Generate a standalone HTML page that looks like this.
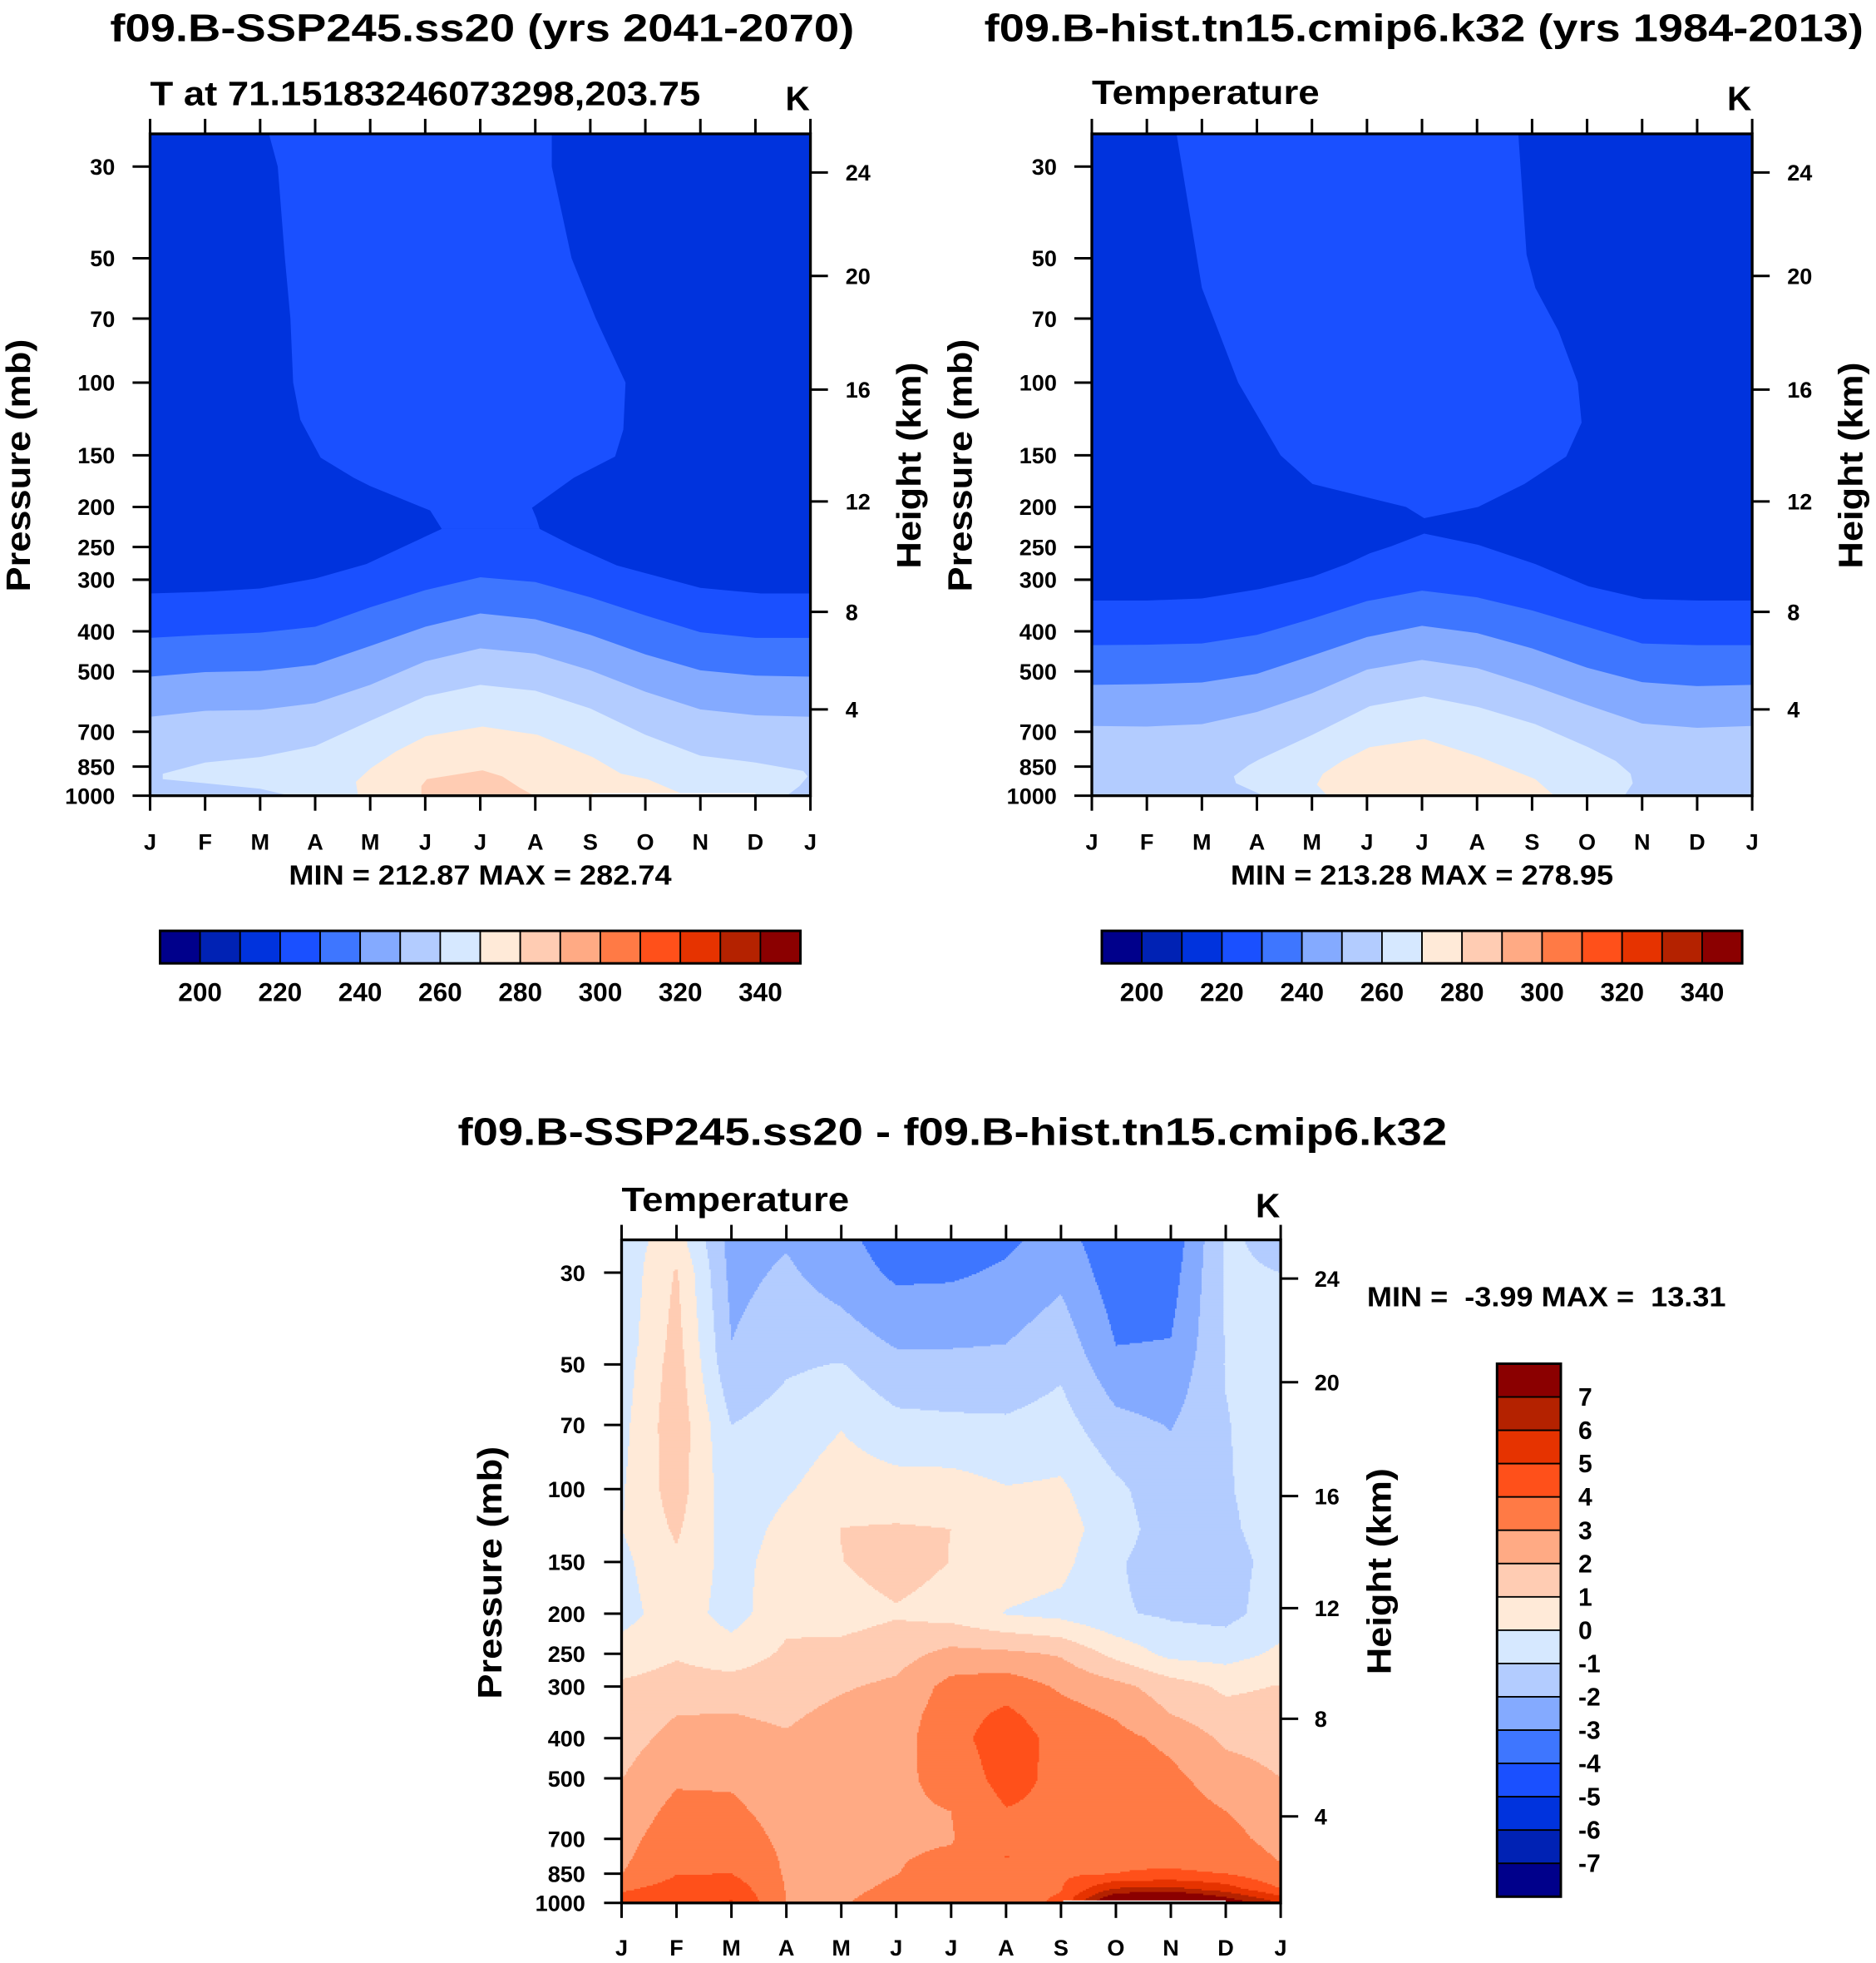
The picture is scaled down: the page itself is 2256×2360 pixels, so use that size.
<!DOCTYPE html>
<html><head><meta charset="utf-8">
<style>
html,body{margin:0;padding:0;background:#fff;}
svg{display:block;}
text{font-family:"Liberation Sans",Arial,sans-serif;font-weight:bold;fill:#000;}
</style></head>
<body>
<svg id="fig" xmlns="http://www.w3.org/2000/svg" width="2256" height="2360" viewBox="0 0 1500 1569" preserveAspectRatio="none">
<rect x="0" y="0" width="1500" height="1569" fill="#fff"/>
<text x="385.5" y="33" font-size="31" text-anchor="middle" textLength="595" lengthAdjust="spacingAndGlyphs">f09.B-SSP245.ss20 (yrs 2041-2070)</text>
<text x="1138.5" y="33" font-size="31" text-anchor="middle" textLength="703" lengthAdjust="spacingAndGlyphs">f09.B-hist.tn15.cmip6.k32 (yrs 1984-2013)</text>
<text x="761.5" y="915" font-size="31" text-anchor="middle" textLength="791" lengthAdjust="spacingAndGlyphs">f09.B-SSP245.ss20 - f09.B-hist.tn15.cmip6.k32</text>
<text x="120" y="84" font-size="27" textLength="440" lengthAdjust="spacingAndGlyphs">T at 71.15183246073298,203.75</text>
<text x="628" y="88" font-size="27">K</text>
<text x="873" y="83" font-size="27" textLength="182" lengthAdjust="spacingAndGlyphs">Temperature</text>
<text x="1381" y="88" font-size="27">K</text>
<text x="497" y="968" font-size="27" textLength="182" lengthAdjust="spacingAndGlyphs">Temperature</text>
<text x="1004" y="973" font-size="27">K</text>
<text x="384" y="707" font-size="22" text-anchor="middle" textLength="306" lengthAdjust="spacingAndGlyphs">MIN = 212.87 MAX = 282.74</text>
<text x="1137" y="707" font-size="22" text-anchor="middle" textLength="306" lengthAdjust="spacingAndGlyphs">MIN = 213.28 MAX = 278.95</text>
<text x="1093" y="1044" font-size="22" textLength="287" lengthAdjust="spacingAndGlyphs" xml:space="preserve">MIN =  -3.99 MAX =  13.31</text>
<text transform="translate(24,372) rotate(-90)" font-size="27" text-anchor="middle" textLength="202" lengthAdjust="spacingAndGlyphs">Pressure (mb)</text>
<text transform="translate(777,372) rotate(-90)" font-size="27" text-anchor="middle" textLength="202" lengthAdjust="spacingAndGlyphs">Pressure (mb)</text>
<text transform="translate(401,1257) rotate(-90)" font-size="27" text-anchor="middle" textLength="202" lengthAdjust="spacingAndGlyphs">Pressure (mb)</text>
<text transform="translate(736,372) rotate(-90)" font-size="27" text-anchor="middle" textLength="165" lengthAdjust="spacingAndGlyphs">Height (km)</text>
<text transform="translate(1489,372) rotate(-90)" font-size="27" text-anchor="middle" textLength="165" lengthAdjust="spacingAndGlyphs">Height (km)</text>
<text transform="translate(1112,1256) rotate(-90)" font-size="27" text-anchor="middle" textLength="165" lengthAdjust="spacingAndGlyphs">Height (km)</text>
<g id="layer"></g>
</svg>
<script>
const NS = "http://www.w3.org/2000/svg";
const palette = ['#00008B','#0022B4','#0033DD','#1A50FF','#3E76FF','#84AAFF','#B3CCFF','#D6E8FF','#FFEAD8','#FFCCB3','#FFAA84','#FF7A45','#FF501A','#E63300','#B42200','#8B0000'];
const monthLabels = ['J','F','M','A','M','J','J','A','S','O','N','D','J'];
const pressureTicks = [30,50,70,100,150,200,250,300,400,500,700,850,1000];
const heightTicks = [4,8,12,16,20,24];
const heightTickPressure = [618,359,194,104,55.2,31.0];
const tempBarLabels = [200,220,240,260,280,300,320,340];
const diffBarLabels = [7,6,5,4,3,2,1,0,-1,-2,-3,-4,-5,-6,-7];

// ---- Panel 1 (SSP245) contour data: [month index, pressure mb] ----
const sspUpperWarm = [[2.16,25],[2.32,30],[2.45,50],[2.55,70],[2.6,100],[2.73,123],[3.1,152],[3.7,170],[4.0,178],[4.93,200],[5.09,204],[5.3,226],[7.08,226],[7.02,213],[6.94,201],[7.7,170],[8.45,151],[8.6,130],[8.64,100],[8.1,70],[7.66,50],[7.3,30],[7.3,25]];
const sspIso220 = [[0,324],[1,321],[2,315],[3,298],[3.93,275],[5.3,226],[7.08,226],[7.7,249],[8.48,277],[10,314],[11.1,324],[12,324]];
const sspIso230 = [[0,415],[1,408],[2,403],[3,390],[4,350],[5,318],[6,296],[7,304],[8,331],[9,366],[10,402],[11,415],[12,415]];
const sspIso240 = [[0,515],[1,502],[2,499],[3,482],[4,434],[5,390],[6,362],[7,374],[8,408],[9,455],[10,497],[11,512],[12,515]];
const sspIso250 = [[0,644],[1,623],[2,620],[3,597],[4,539],[5,473],[6,440],[7,453],[8,497],[9,560],[10,618],[11,639],[12,644]];
const sspRegion260 = [[0.23,885],[1,831],[2,806],[3,758],[4,659],[5,575],[6,539],[7,557],[8,615],[9,712],[10,800],[11,831],[11.87,871],[11.95,898],[11.8,948],[11.57,1000],[2.54,1000],[2.0,962],[1.0,933],[0.23,912]];
const sspRegion270 = [[3.78,1000],[3.74,926],[4.01,858],[4.47,781],[5.01,718],[6.04,680],[7.04,712],[8.04,806],[8.56,885],[9.04,912],[9.64,986],[9.71,1000]];
const sspRegion280 = [[4.93,1000],[4.93,947],[5.03,912],[6.04,868],[6.4,898],[6.71,955],[6.98,1000]];

// ---- Panel 2 (historical) contour data ----
const histUpperWarm = [[1.54,25],[2.0,59],[2.66,100],[3.43,150],[4.01,176],[5.71,200],[6.04,213],[7.02,200],[7.86,176],[8.62,151],[8.9,125],[8.83,100],[8.48,75],[8.06,59],[7.9,49],[7.75,25]];
const histIso220 = [[0,337],[1,337],[2,333],[3.05,316],[4.01,295],[4.63,275],[5.05,259],[5.44,249],[6.04,232],[7.02,247],[8.06,275],[9.02,311],[10.02,334],[11.03,337],[12,337]];
const histIso230 = [[0,432],[1,431],[2,428],[3,408],[4,373],[5,338],[6,319],[7,331],[8,356],[9,390],[10,428],[11,432],[12,432]];
const histIso240 = [[0,539],[1,537],[2,532],[3,507],[4,458],[5,413],[6,388],[7,404],[8,440],[9,490],[10,531],[11,543],[12,539]];
const histIso250 = [[0,678],[1,680],[2,671],[3,627],[4,565],[5,495],[6,469],[7,491],[8,541],[9,603],[10,669],[11,685],[12,678]];
const histRegion260 = [[3.12,1000],[2.62,933],[2.58,898],[2.85,844],[3.05,816],[4.01,712],[5.05,607],[6.04,575],[7.02,610],[8.06,671],[9.02,763],[9.52,824],[9.79,885],[9.83,933],[9.68,1000]];
const histRegion270 = [[4.28,1000],[4.09,940],[4.2,885],[4.55,824],[5.05,763],[6.04,729],[7.02,803],[8.06,912],[8.4,1000]];

// ---- Panel 3 (difference) gridded data: one array per month, values at diffLevels ----
const diffLevels = [25,30,45,50,70,100,125,150,200,250,300,350,400,500,600,700,775,850,925,1000];
const diffJan1 = [-0.5,-0.7,-0.6,-0.5,-0.3,-0.1,-0.02,-0.25,-0.4,0.45,1.15,1.45,1.6,1.98,2.35,2.65,2.8,2.98,3.85,4.5];
const diffFeb = [0.5,1.1,1.4,1.5,1.65,1.5,1.15,0.85,0.6,0.9,1.4,1.98,2.3,2.85,3.3,3.6,3.8,3.97,4.4,4.7];
const diffMar = [-2.4,-2.3,-1.98,-1.85,-1.0,-0.7,-0.55,-0.4,-0.45,0.5,1.4,2.02,2.3,2.85,3.2,3.55,3.8,4.0,4.6,5.1];
const diffApr = [-2.1,-1.85,-1.35,-1.15,-0.55,-0.1,0.3,0.5,0.75,1.15,1.55,1.85,2.1,2.4,2.6,2.75,2.85,2.9,2.95,3.0];
const diffMay = [-2.7,-2.45,-1.5,-0.95,-0.05,0.5,1.02,0.98,0.6,1.3,1.9,2.25,2.45,2.6,2.65,2.65,2.6,2.6,2.75,2.9];
const diffJun = [-3.55,-3.2,-2.05,-1.75,-0.7,0.4,1.1,1.4,0.9,1.6,2.2,2.5,2.65,2.8,2.85,2.9,2.95,2.98,3.2,3.5];
const diffJul = [-3.5,-3.15,-2.05,-1.75,-0.8,0.4,1.0,0.98,0.6,2.3,3.35,3.55,3.6,3.3,3.0,2.95,3.1,3.3,3.55,3.65];
const diffAug = [-3.2,-2.85,-1.98,-1.7,-0.85,0.05,0.4,0.55,-0.05,2.2,3.6,4.2,4.6,4.4,3.95,3.6,4.02,3.7,3.6,3.55];
const diffSep = [-2.6,-2.25,-1.4,-1.2,-0.6,0.15,0.45,0.3,-0.3,1.9,2.85,3.4,3.6,3.7,3.75,3.8,3.8,3.85,3.95,4.2];
const diffOct = [-3.7,-3.55,-3.0,-2.7,-1.7,-0.8,-0.6,-0.9,-0.9,0.7,2.3,2.9,3.3,3.6,3.7,3.8,3.9,4.0,6.1,9.0];
const diffNov = [-3.7,-3.45,-2.95,-2.75,-2.05,-1.6,-1.5,-1.45,-1.15,-0.3,1.5,2.0,2.75,3.25,3.5,3.65,3.8,4.1,6.3,10.0];
const diffDec = [-0.9,-0.9,-0.95,-0.95,-1.05,-1.1,-1.2,-1.4,-1.3,-0.4,0.8,1.35,1.8,2.5,3.0,3.35,3.7,4.0,5.5,8.0];
const diffJan2 = [-1.2,-1.0,-0.7,-0.6,-0.5,-0.45,-0.5,-0.6,-0.5,0.2,1.05,1.4,1.6,2.0,2.4,2.6,2.9,3.2,4.0,6.0];
const diffColumns = [diffJan1,diffFeb,diffMar,diffApr,diffMay,diffJun,diffJul,diffAug,diffSep,diffOct,diffNov,diffDec,diffJan2];

const layer = document.getElementById('layer');
const P1 = {x0:120,y0:107,w:528,h:529,name:'panel1'};
const P2 = {x0:873,y0:107,w:528,h:529,name:'panel2'};
const P3 = {x0:497,y0:991,w:527,h:530,name:'panel3'};
const PTOP = 25;
function xM(P,m){ return P.x0 + m*P.w/12; }
function yP(P,p){ return P.y0 + P.h*(1 - Math.log10(1000/p)/Math.log10(1000/PTOP)); }
function mk(tag, attrs, parent){
  const e = document.createElementNS(NS, tag);
  for (const k in attrs) e.setAttribute(k, attrs[k]);
  (parent||layer).appendChild(e);
  return e;
}
function ptsStr(P, pts){ return pts.map(q => xM(P,q[0]).toFixed(2)+','+yP(P,q[1]).toFixed(2)).join(' '); }

function setupClip(P){
  const defs = mk('defs',{});
  const cp = mk('clipPath',{id:'clip-'+P.name}, defs);
  mk('rect',{x:P.x0,y:P.y0,width:P.w,height:P.h}, cp);
  const g = mk('g',{'clip-path':'url(#clip-'+P.name+')'});
  
  
  return g;
}
function drawBand(P, g, line, col, nm){
  const pts = line.concat([[12,1000],[0,1000]]);
  const e = mk('polygon',{points:ptsStr(P,pts),fill:palette[col]}, g);
  
  
}
function drawRegion(P, g, pts, col, nm){
  const e = mk('polygon',{points:ptsStr(P,pts),fill:palette[col]}, g);
  
  
}

function drawTempPanel(P, d){
  const g = setupClip(P);
  const bg = mk('rect',{x:P.x0,y:P.y0,width:P.w,height:P.h,fill:palette[2]}, g);
  
  
  drawRegion(P,g,d.upper,3,P.name+'-contour-220-230-upper');
  drawBand(P,g,d.i220,3,P.name+'-contour-220-230');
  drawBand(P,g,d.i230,4,P.name+'-contour-230-240');
  drawBand(P,g,d.i240,5,P.name+'-contour-240-250');
  drawBand(P,g,d.i250,6,P.name+'-contour-250-260');
  if (d.r260) drawRegion(P,g,d.r260,7,P.name+'-contour-260-270');
  if (d.r270) drawRegion(P,g,d.r270,8,P.name+'-contour-270-280');
  if (d.r280) drawRegion(P,g,d.r280,9,P.name+'-contour-280-290');
}

function diffAt(m, p){
  let i = Math.min(11, Math.max(0, Math.floor(m)));
  const fm = Math.max(0, Math.min(1, m - i));
  const lp = Math.log10(p);
  let j = 0;
  while (j < diffLevels.length-2 && p > diffLevels[j+1]) j++;
  const l0 = Math.log10(diffLevels[j]), l1 = Math.log10(diffLevels[j+1]);
  let fp = (lp - l0)/(l1 - l0); fp = Math.max(0, Math.min(1, fp));
  const a = diffColumns[i][j], b = diffColumns[i+1][j], c = diffColumns[i][j+1], dd = diffColumns[i+1][j+1];
  return (a*(1-fm)+b*fm)*(1-fp) + (c*(1-fm)+dd*fm)*fp;
}
function diffBin(v){ return Math.max(0, Math.min(15, Math.floor(v)+8)); }

function drawDiffPanel(P){
  const g = setupClip(P);
  const step = 1.25;
  const nx = Math.ceil(P.w/step), ny = Math.ceil(P.h/step);
  for (let iy = 0; iy < ny; iy++){
    const y = P.y0 + iy*step;
    const yc = y + step/2;
    const frac = (P.y0+P.h - yc)/P.h;
    const p = 1000/Math.pow(1000/PTOP, frac);
    let runStart = 0, runCol = -1;
    const flush = (endIx) => {
      const x1 = P.x0 + runStart*step, x2 = P.x0 + endIx*step;
      const r = mk('rect',{x:x1.toFixed(2),y:y.toFixed(2),width:(x2-x1+0.6).toFixed(2),height:(step+0.6).toFixed(2),fill:palette[runCol]}, g);
      
      
    };
    for (let ix = 0; ix < nx; ix++){
      const xc = Math.min(P.x0 + ix*step + step/2, P.x0+P.w);
      const m = (xc - P.x0)/P.w*12;
      const col = diffBin(diffAt(m,p));
      if (col !== runCol){
        if (runCol >= 0) flush(ix);
        runStart = ix; runCol = col;
      }
    }
    if (runCol >= 0) flush(nx);
  }
  const w = mk('rect',{x:xM(P,8.04),y:P.y0+P.h-2,width:xM(P,11)-xM(P,8.04),height:2,fill:'#fff'}, g);
  
  
}

function drawAxes(P, prefix, labelRight, heightX, monthY){
  const frame = mk('rect',{x:P.x0,y:P.y0,width:P.w,height:P.h,fill:'none',stroke:'#000','stroke-width':2.2});
  
  
  monthLabels.forEach((lab,i)=>{
    const x = xM(P,i);
    const tb = mk('line',{x1:x,y1:P.y0+P.h,x2:x,y2:P.y0+P.h+12,stroke:'#000','stroke-width':2});
    
    
    const tt = mk('line',{x1:x,y1:P.y0,x2:x,y2:P.y0-12,stroke:'#000','stroke-width':2});
    
    
    const t = mk('text',{x:x,y:monthY,'font-size':18,'text-anchor':'middle'});
    t.textContent = lab;
    
    
  });
  pressureTicks.forEach(p=>{
    const y = yP(P,p);
    const tk = mk('line',{x1:P.x0-14,y1:y,x2:P.x0,y2:y,stroke:'#000','stroke-width':2});
    
    
    const t = mk('text',{x:labelRight,y:y+6.5,'font-size':18,'text-anchor':'end'});
    t.textContent = p;
    
    
  });
  heightTicks.forEach((h,i)=>{
    const y = yP(P,heightTickPressure[i]);
    const tk = mk('line',{x1:P.x0+P.w,y1:y,x2:P.x0+P.w+14,y2:y,stroke:'#000','stroke-width':2});
    
    
    const t = mk('text',{x:heightX,y:y+6.5,'font-size':18});
    t.textContent = h;
    
    
  });
}

function drawHBar(x0, prefix){
  const bw = 32, y0 = 744, bh = 26;
  palette.forEach((c,i)=>{
    const r = mk('rect',{x:x0+i*bw,y:y0,width:bw,height:bh,fill:c,stroke:'#000','stroke-width':1.2});
    
    
  });
  const f = mk('rect',{x:x0,y:y0,width:bw*16,height:bh,fill:'none',stroke:'#000','stroke-width':2});
  
  
  tempBarLabels.forEach(v=>{
    const k = (v-190)/10;
    const t = mk('text',{x:x0+k*bw,y:800,'font-size':21,'text-anchor':'middle'});
    t.textContent = v;
    
    
  });
}
function drawVBar(){
  const x0 = 1197, y0 = 1090, bw = 51, bh = 426/16;
  palette.slice().reverse().forEach((c,i)=>{
    const r = mk('rect',{x:x0,y:y0+i*bh,width:bw,height:bh,fill:c,stroke:'#000','stroke-width':1.2});
    
    
  });
  const f = mk('rect',{x:x0,y:y0,width:bw,height:bh*16,fill:'none',stroke:'#000','stroke-width':2});
  
  
  diffBarLabels.forEach(v=>{
    const k = 8 - v;
    const t = mk('text',{x:1262,y:y0+k*bh+7,'font-size':20});
    t.textContent = v;
    
    
  });
}

drawTempPanel(P1,{upper:sspUpperWarm,i220:sspIso220,i230:sspIso230,i240:sspIso240,i250:sspIso250,r260:sspRegion260,r270:sspRegion270,r280:sspRegion280});
const ws = mk('rect',{x:xM(P1,8.04),y:P1.y0+P1.h-2,width:xM(P1,11)-xM(P1,8.04),height:2,fill:'#fff'});


drawTempPanel(P2,{upper:histUpperWarm,i220:histIso220,i230:histIso230,i240:histIso240,i250:histIso250,r260:histRegion260,r270:histRegion270});
drawDiffPanel(P3);
drawAxes(P1,'panel1',92,676,679);
drawAxes(P2,'panel2',845,1429,679);
drawAxes(P3,'panel3',468,1051,1563);
drawHBar(128,'panel1');
drawHBar(881,'panel2');
drawVBar();
</script>
</body></html>
